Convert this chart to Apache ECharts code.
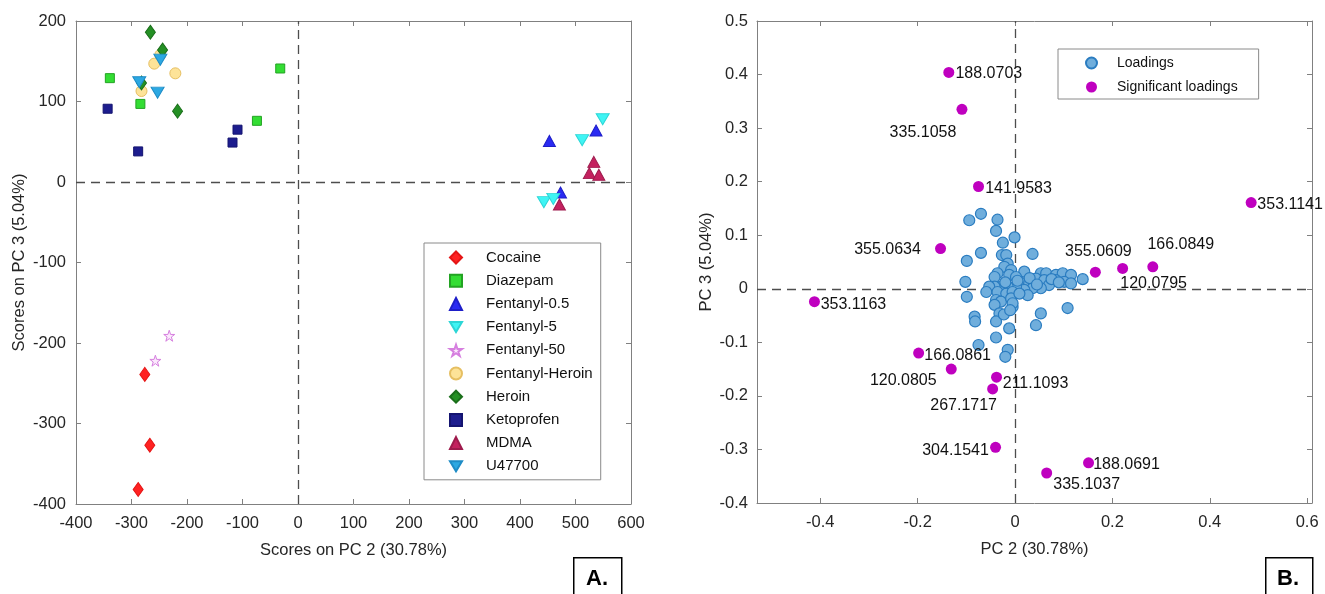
<!DOCTYPE html>
<html>
<head>
<meta charset="utf-8">
<script src="https://cdn.jsdelivr.net/npm/echarts@6/dist/echarts.min.js"></script>
<style>
  html, body { margin: 0; padding: 0; background: #fff; }
  #chart { width: 1325px; height: 594px; }
</style>
</head>
<body>
<div id="chart"></div>
<script>
// ---- panel A: scores on PC2 / PC3, one array per sample class ----
const cocaine = [[-276, -239], [-267, -327], [-288, -382]];
const diazepam = [[-339, 129], [-284, 97], [-74, 76], [-32, 141]];
const fentanyl05 = [[453, 51], [537, 64], [473, -13]];
const fentanyl5 = [[549, 78], [512, 52], [443, -25], [460, -21]];
const fentanyl50 = [[-232, -191], [-257, -222]];
const fentanylHeroin = [[-259, 147], [-248, 158], [-221, 135], [-282, 113]];
const heroin = [[-266, 186], [-244, 164], [-282, 123], [-217, 88]];
const ketoprofen = [[-343, 91], [-288, 38], [-118, 49], [-109, 65]];
const mdma = [[533, 25], [525, 11], [542, 9], [471, -28]];
const u47700 = [[-248, 152], [-286, 124], [-253, 111]];

// ---- panel B: loadings on PC2 / PC3 ----
const loadings = [
  [-0.070, 0.140], [-0.094, 0.128], [-0.036, 0.129], [-0.039, 0.108], [-0.001, 0.096],
  [-0.025, 0.086], [-0.070, 0.067], [-0.027, 0.063], [-0.018, 0.063], [0.036, 0.065],
  [-0.099, 0.052], [-0.015, 0.047], [-0.022, 0.041], [-0.008, 0.035], [-0.036, 0.029],
  [-0.042, 0.022], [0.019, 0.032], [0.053, 0.029], [0.064, 0.029], [0.084, 0.026],
  [0.098, 0.029], [0.115, 0.026], [0.139, 0.018], [0.084, 0.016], [0.101, 0.013],
  [0.115, 0.010], [-0.012, 0.026], [0.002, 0.022], [0.012, 0.011], [0.029, 0.010],
  [0.043, 0.019], [0.060, 0.016], [0.070, 0.007], [0.053, 0.001], [0.036, 0.001],
  [0.019, -0.002], [0.002, 0.004], [-0.015, 0.004], [-0.029, 0.004], [-0.042, 0.004],
  [-0.053, 0.004], [-0.059, -0.006], [-0.036, -0.006], [-0.018, -0.009], [-0.005, -0.006],
  [-0.039, -0.021], [-0.029, -0.024], [-0.008, -0.018], [-0.005, -0.034], [-0.042, -0.030],
  [-0.032, -0.046], [-0.039, -0.061], [-0.083, -0.052], [-0.082, -0.061], [0.053, -0.046],
  [0.108, -0.036], [0.043, -0.068], [-0.012, -0.074], [0.026, -0.012], [0.009, -0.009],
  [-0.102, 0.013], [-0.099, -0.015], [-0.023, -0.048], [-0.039, -0.091], [-0.075, -0.105],
  [-0.015, -0.114], [-0.020, -0.127], [-0.005, -0.027], [0.005, 0.015], [-0.020, 0.012],
  [0.030, 0.020], [0.075, 0.018], [-0.010, -0.040], [0.045, 0.008], [0.090, 0.012]
];
const sigLoadings = [
  [-0.136, 0.404], [-0.109, 0.335], [-0.075, 0.191], [-0.153, 0.075], [-0.412, -0.024],
  [-0.198, -0.120], [-0.131, -0.150], [-0.038, -0.165], [-0.046, -0.187], [-0.040, -0.296],
  [0.151, -0.325], [0.065, -0.344], [0.165, 0.031], [0.221, 0.038], [0.283, 0.041],
  [0.485, 0.161]
];
const sigNames = [
  '188.0703', '335.1058', '141.9583', '355.0634', '353.1163',
  '166.0861', '120.0805', '211.1093', '267.1717', '304.1541',
  '188.0691', '335.1037', '355.0609', '120.0795', '166.0849',
  '353.1141'
];
// where each name sits relative to its dot (px)
const sigLabelOffset = [
  [40, 1], [-39, 23], [40, 2], [-53, 1], [39, 3],
  [39, 3], [-48, 11], [39, 6], [-29, 17], [-40, 3],
  [38, 2], [40, 12], [3, -21], [31, 15], [28, -22],
  [39, 2]
];

const xTicksB = [-0.4, -0.2, 0, 0.2, 0.4, 0.6];

const FONT = 'Arial, "Liberation Sans", Helvetica, sans-serif';
const TXT = '#262626';
const AXIS = '#808080';
const DOWN_TRI = 'path://M0,0 L12,0 L6,10 Z';
const STAR = 'path://M50,0 L61.8,35.3 L99,35.3 L69,57.1 L80.4,92.7 L50,70.9 L19.6,92.7 L31,57.1 L1,35.3 L38.2,35.3 Z';

let chart = echarts.init(document.getElementById('chart'));

// frame axis (labels on bottom/left, bare ticks on top/right)
function frameAxis(extra, withLabel) {
    let ax = {
        type: 'value',
        axisLine: { show: true, onZero: false, lineStyle: { color: AXIS, width: 1 } },
        axisTick: { show: true, inside: true, length: 5, lineStyle: { color: AXIS } },
        axisLabel: { show: withLabel, color: TXT, fontSize: 16.5, fontFamily: FONT },
        splitLine: { show: false }
    };
    for (let k in extra) {
        if (typeof extra[k] === 'object' && ax[k] && !Array.isArray(extra[k])) {
            ax[k] = Object.assign({}, ax[k], extra[k]);
        } else {
            ax[k] = extra[k];
        }
    }
    return ax;
}

const zeroLines = {
    silent: true,
    symbol: 'none',
    z: 1,
    label: { show: false },
    lineStyle: { color: '#4d4d4d', type: [9, 6], width: 1.3 },
    data: [{ xAxis: 0 }, { yAxis: 0 }]
};

function scoreSeries(name, data, symbol, size, fill, border) {
    return {
        name: name,
        type: 'scatter',
        xAxisIndex: 0,
        yAxisIndex: 0,
        data: data,
        symbol: symbol,
        symbolSize: size,
        itemStyle: { color: fill, borderColor: border, borderWidth: 1, opacity: 1 }
    };
}

let seriesA = [
    scoreSeries('Cocaine', cocaine, 'diamond', [10, 14], '#FF2222', '#E41515'),
    scoreSeries('Diazepam', diazepam, 'rect', 9, '#33DD33', '#23A323'),
    scoreSeries('Fentanyl-0.5', fentanyl05, 'triangle', [12, 11], '#2A2AF2', '#1E1EC8'),
    scoreSeries('Fentanyl-5', fentanyl5, DOWN_TRI, [13, 11], '#3FF4F4', '#2CD6D6'),
    scoreSeries('Fentanyl-50', fentanyl50, STAR, 11, '#FBE9FC', '#D67FDF'),
    scoreSeries('Fentanyl-Heroin', fentanylHeroin, 'circle', 11, '#FDE398', '#E6BF62'),
    scoreSeries('Heroin', heroin, 'diamond', [10, 14], '#249024', '#1A6E1A'),
    scoreSeries('Ketoprofen', ketoprofen, 'rect', 9, '#1D1D8E', '#141470'),
    scoreSeries('MDMA', mdma, 'triangle', [12, 11], '#C4215F', '#9E1A4C'),
    scoreSeries('U47700', u47700, DOWN_TRI, [13, 11], '#2CA8E2', '#1E8CC6')
];
seriesA[0].markLine = zeroLines;

let seriesB = [
    {
        name: 'Loadings',
        type: 'scatter',
        xAxisIndex: 2,
        yAxisIndex: 2,
        data: loadings,
        symbol: 'circle',
        symbolSize: 11,
        itemStyle: { color: '#70AEDC', borderColor: '#2A7CC0', borderWidth: 1.2, opacity: 1 },
        markLine: zeroLines
    },
    {
        name: 'Significant loadings',
        type: 'scatter',
        xAxisIndex: 2,
        yAxisIndex: 2,
        data: sigLoadings.map((p, i) => ({
            value: p,
            name: sigNames[i],
            label: { offset: sigLabelOffset[i] }
        })),
        symbol: 'circle',
        symbolSize: 11,
        itemStyle: { color: '#BF00BF', opacity: 1 },
        label: {
            show: true,
            position: 'inside',
            formatter: '{b}',
            color: '#111',
            fontSize: 16,
            fontFamily: FONT
        }
    }
];

function legendBox(names, pos, opt) {
    return Object.assign({
        data: names,
        orient: 'vertical',
        left: pos[0],
        top: pos[1],
        selectedMode: false,
        borderColor: '#8a8a8a',
        borderWidth: 1,
        borderRadius: 0,
        backgroundColor: '#fff',
        formatter: (n) => '{s| }' + n
    }, opt);
}

let option = {
    animation: false,
    backgroundColor: '#fff',
    textStyle: { fontFamily: FONT },
    grid: [
        { left: 76, top: 21, width: 555, height: 483, outerBoundsMode: 'none' },
        { left: 757, top: 21, width: 555, height: 482, outerBoundsMode: 'none' }
    ],
    xAxis: [
        frameAxis({
            gridIndex: 0, position: 'bottom', min: -400, max: 600, interval: 100,
            name: 'Scores on PC 2 (30.78%)', nameLocation: 'middle', nameGap: 38,
            nameTextStyle: { color: TXT, fontSize: 16.5, fontFamily: FONT },
            axisLabel: { margin: 11 }
        }, true),
        frameAxis({ gridIndex: 0, position: 'top', min: -400, max: 600, interval: 100 }, false),
        frameAxis({
            gridIndex: 1, position: 'bottom', min: -0.53, max: 0.61,
            name: 'PC 2 (30.78%)', nameLocation: 'middle', nameGap: 38,
            nameTextStyle: { color: TXT, fontSize: 16.5, fontFamily: FONT },
            axisLabel: { margin: 11, customValues: xTicksB, formatter: (v) => String(Math.round(v * 10) / 10) },
            axisTick: { customValues: xTicksB }
        }, true),
        frameAxis({
            gridIndex: 1, position: 'top', min: -0.53, max: 0.61,
            axisTick: { customValues: xTicksB }
        }, false)
    ],
    yAxis: [
        frameAxis({
            gridIndex: 0, position: 'left', min: -400, max: 200, interval: 100,
            name: 'Scores on PC 3 (5.04%)', nameLocation: 'middle', nameGap: 48,
            nameTextStyle: { color: TXT, fontSize: 16.5, fontFamily: FONT },
            axisLabel: { margin: 10 }
        }, true),
        frameAxis({ gridIndex: 0, position: 'right', min: -400, max: 200, interval: 100 }, false),
        frameAxis({
            gridIndex: 1, position: 'left', min: -0.4, max: 0.5, interval: 0.1,
            name: 'PC 3 (5.04%)', nameLocation: 'middle', nameGap: 42,
            nameTextStyle: { color: TXT, fontSize: 16.5, fontFamily: FONT },
            axisLabel: { margin: 9, formatter: (v) => String(Math.round(v * 10) / 10) }
        }, true),
        frameAxis({ gridIndex: 1, position: 'right', min: -0.4, max: 0.5, interval: 0.1 }, false)
    ],
    legend: [
        legendBox(seriesA.map((s) => s.name), [424, 243], {
            itemWidth: 12,
            itemHeight: 12,
            itemGap: 8.2,
            padding: [7, 8, 6, 25],
            textStyle: {
                color: '#111', fontSize: 15, lineHeight: 15, fontFamily: FONT,
                rich: { s: { width: 19 } }
            }
        }),
        legendBox(['Loadings', 'Significant loadings'], [1058, 49], {
            itemWidth: 11,
            itemHeight: 11,
            itemGap: 10,
            padding: [7, 21, 5, 27],
            textStyle: {
                color: '#111', fontSize: 14, lineHeight: 14, fontFamily: FONT,
                rich: { s: { width: 15 } }
            }
        })
    ],
    graphic: [
        { type: 'rect', left: 573, top: 557, shape: { width: 48, height: 45 },
          style: { fill: '#fff', stroke: '#000', lineWidth: 1.5 } },
        { type: 'text', x: 597, y: 579,
          style: { text: 'A.', font: 'bold 22px ' + FONT, fill: '#000', align: 'center', verticalAlign: 'middle' } },
        { type: 'rect', left: 1265, top: 557, shape: { width: 47, height: 45 },
          style: { fill: '#fff', stroke: '#000', lineWidth: 1.5 } },
        { type: 'text', x: 1288, y: 579,
          style: { text: 'B.', font: 'bold 22px ' + FONT, fill: '#000', align: 'center', verticalAlign: 'middle' } }
    ],
    series: seriesA.concat(seriesB)
};

chart.setOption(option);
</script>
</body>
</html>
